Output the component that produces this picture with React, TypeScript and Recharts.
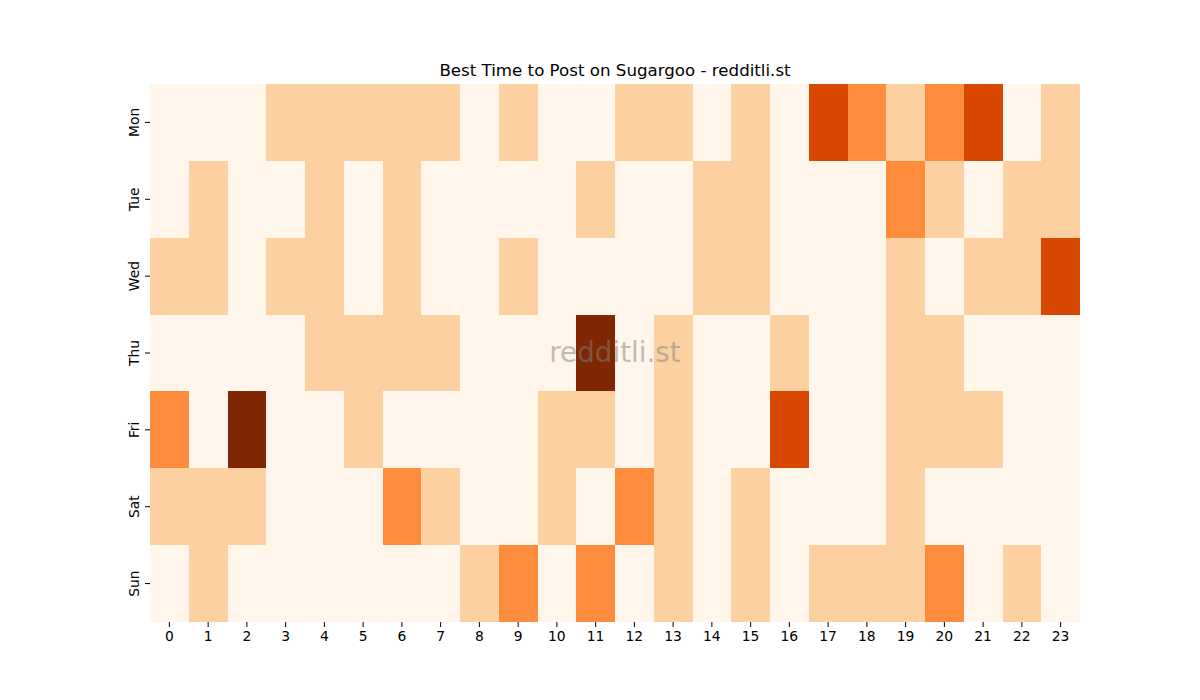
import React from 'react';
import { BarChart, Bar, XAxis, YAxis, Cell } from 'recharts';

const hours = ['0','1','2','3','4','5','6','7','8','9','10','11','12','13','14','15','16','17','18','19','20','21','22','23'];
const days = ['Mon', 'Tue', 'Wed', 'Thu', 'Fri', 'Sat', 'Sun'];

// activity level per hour (0 = lowest, 4 = highest)
const mon = [0,0,0,1,1,1,1,1,0,1,0,0,1,1,0,1,0,3,2,1,2,3,0,1];
const tue = [0,1,0,0,1,0,1,0,0,0,0,1,0,0,1,1,0,0,0,2,1,0,1,1];
const wed = [1,1,0,1,1,0,1,0,0,1,0,0,0,0,1,1,0,0,0,1,0,1,1,3];
const thu = [0,0,0,0,1,1,1,1,0,0,0,4,0,1,0,0,1,0,0,1,1,0,0,0];
const fri = [2,0,4,0,0,1,0,0,0,0,1,1,0,1,0,0,3,0,0,1,1,1,0,0];
const sat = [1,1,1,0,0,0,2,1,0,0,1,0,2,1,0,1,0,0,0,1,0,0,0,0];
const sun = [0,1,0,0,0,0,0,0,1,2,0,2,0,1,0,1,0,1,1,1,2,0,1,0];

const palette = ['#fff5eb', '#fdd0a2', '#fd8d3c', '#d94801', '#7f2704'];
const yTicks = [0.5, 1.5, 2.5, 3.5, 4.5, 5.5, 6.5];

const levels: Record<string, number[]> = { Mon: mon, Tue: tue, Wed: wed, Thu: thu, Fri: fri, Sat: sat, Sun: sun };

const data = hours.map((h) => {
  const row: Record<string, string | number> = { hour: h };
  days.forEach((d) => { row[d] = 1; });
  return row;
});

const stackOrder = [...days].reverse(); // Sun at bottom, Mon on top

const FONT = 'DejaVu Sans, sans-serif';

const YTick = (props: any) => {
  const { x, y, payload } = props;
  const label = days[6 - Math.floor(payload.value)];
  return (
    <text
      x={x - 6}
      y={y}
      transform={`rotate(-90, ${x - 6}, ${y})`}
      textAnchor="middle"
      fontSize={13.89}
      fontFamily={FONT}
      fill="#000"
    >
      {label}
    </text>
  );
};

export default function App() {
  return (
    <div style={{ position: 'absolute', left: 0, top: 0, width: 1200, height: 700, background: '#fff' }}>
      <BarChart
        width={1200}
        height={700}
        data={data}
        margin={{ top: 84, right: 120, bottom: 48, left: 110 }}
        barCategoryGap={0}
        barGap={0}
      >
        <XAxis
          dataKey="hour"
          type="category"
          height={30}
          axisLine={false}
          tickLine={{ stroke: '#000' }}
          tickSize={5}
          tickMargin={4}
          interval={0}
          tick={{ fill: '#000', fontSize: 13.89, fontFamily: FONT }}
        />
        <YAxis
          type="number"
          domain={[0, 7]}
          ticks={yTicks}
          width={40}
          axisLine={false}
          tickLine={{ stroke: '#000' }}
          tickSize={5}
          tickMargin={0}
          tick={<YTick />}
        />
        {stackOrder.map((d) => (
          <Bar key={d} dataKey={d} stackId="a" isAnimationActive={false} stroke="none">
            {levels[d].map((v, i) => (
              <Cell key={i} fill={palette[v]} stroke="none" shapeRendering="crispEdges" />
            ))}
          </Bar>
        ))}
        <text x={615} y={76} textAnchor="middle" fontSize={16.67} fontFamily={FONT} fill="#000">
          Best Time to Post on Sugargoo - redditli.st
        </text>
      </BarChart>
      <svg
        width={1200}
        height={700}
        style={{ position: 'absolute', left: 0, top: 0, pointerEvents: 'none' }}
      >
        <text x={615} y={362} textAnchor="middle" fontSize={27.78} fontFamily={FONT} fill="#808080" fillOpacity={0.5}>
          redditli.st
        </text>
      </svg>
    </div>
  );
}
